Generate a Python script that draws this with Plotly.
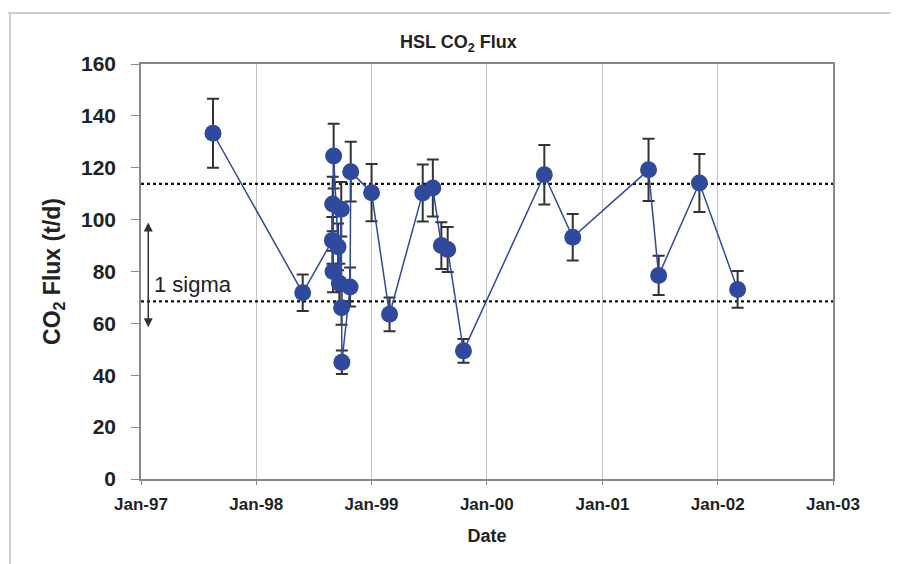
import plotly.graph_objects as go

# ---- data ----
dates = [
    "1997-08-17", "1998-05-28",
    "1998-08-30", "1998-08-31", "1998-09-01", "1998-09-03", "1998-09-17",
    "1998-09-21", "1998-09-27", "1998-09-28", "1998-09-29", "1998-10-25",
    "1998-10-27", "1999-01-01", "1999-02-27", "1999-06-12", "1999-07-14",
    "1999-08-10", "1999-08-30", "1999-10-19", "2000-07-01", "2000-09-29",
    "2001-05-27", "2001-06-28", "2001-11-04", "2002-03-05",
]
flux = [
    133.3, 71.8,
    92.0, 106.0, 80.0, 124.5, 89.5,
    75.5, 104.0, 66.0, 45.0, 74.0,
    118.5, 110.4, 63.5, 110.3, 112.2,
    90.0, 88.5, 49.4, 117.3, 93.2,
    119.2, 78.5, 114.1, 73.1,
]
flux_err = [
    13.3, 7.0,
    9.0, 10.5, 8.0, 12.5, 9.0,
    7.5, 10.5, 6.5, 4.5, 7.5,
    11.5, 11.0, 6.5, 11.0, 11.0,
    9.0, 8.7, 4.6, 11.5, 9.0,
    12.0, 7.6, 11.2, 7.1,
]
sigma_upper = 113.8
sigma_lower = 68.5
x_range = ["1997-01-01", "2003-01-01"]
tick_dates = ["1997-01-01", "1998-01-01", "1999-01-01", "2000-01-01",
              "2001-01-01", "2002-01-01", "2003-01-01"]
tick_labels = ["Jan-97", "Jan-98", "Jan-99", "Jan-00", "Jan-01", "Jan-02", "Jan-03"]
y_ticks = [0, 20, 40, 60, 80, 100, 120, 140, 160]

FONT = "Liberation Sans, Arial, sans-serif"
BLUE = "#2f4a9c"
TXT = "#222222"

# page body has an 8px margin; figure is laid out 8px up/left of the reference
OFF = 8
W, H = 891, 556
L, T = 141 - OFF, 64 - OFF
PR, PB = 833 - OFF, 479 - OFF
PW, PH = PR - L, PB - T


def px(x):
    return (x - OFF - L) / PW


def py(y):
    return (PB - (y - OFF)) / PH


fig = go.Figure()

for yv in (sigma_upper, sigma_lower):
    fig.add_trace(go.Scatter(
        x=x_range, y=[yv, yv], mode="lines",
        line=dict(color="#111111", width=2.2, dash="dot"),
        hoverinfo="skip", showlegend=False,
    ))

fig.add_trace(go.Scatter(
    x=dates, y=flux, mode="lines+markers",
    line=dict(color=BLUE, width=1.5),
    marker=dict(color=BLUE, size=17, line=dict(width=0)),
    error_y=dict(type="data", array=flux_err, visible=True,
                 color="#333333", thickness=2, width=6),
    showlegend=False,
))

fig.update_layout(
    width=W, height=H,
    margin=dict(l=L, r=W - PR, t=T, b=H - PB),
    paper_bgcolor="white", plot_bgcolor="white",
    font=dict(family=FONT, color=TXT),
    showlegend=False,
    xaxis=dict(
        type="date", range=x_range,
        tickvals=tick_dates, ticktext=tick_labels,
        tickfont=dict(size=17, family=FONT, weight="bold", color=TXT),
        showgrid=True, gridcolor="#c4c4c4", gridwidth=1,
        showline=True, linecolor="#888888", linewidth=1.5, mirror=True,
        ticks="outside", ticklen=4, tickcolor="#888888",
        ticklabelstandoff=5,
        zeroline=False,
        title=dict(text="Date", font=dict(size=18, family=FONT, weight="bold", color=TXT),
                   standoff=16),
    ),
    yaxis=dict(
        range=[0, 160], tickvals=y_ticks,
        tickfont=dict(size=21, family=FONT, weight="bold", color=TXT),
        showgrid=False, zeroline=False,
        showline=True, linecolor="#888888", linewidth=1.5, mirror=True,
        ticks="outside", ticklen=8, tickcolor="#888888",
        ticklabelstandoff=11,
        title=dict(text="CO<sub>2</sub> Flux (t/d)",
                   font=dict(size=23, family=FONT, weight="bold", color=TXT),
                   standoff=14),
    ),
)

fig.add_annotation(
    text="HSL CO<sub>2</sub> Flux", xref="paper", yref="paper",
    x=px(458), y=py(43), xanchor="center", yanchor="middle",
    showarrow=False, font=dict(size=18, family=FONT, weight="bold", color=TXT),
)

fig.add_annotation(
    x="1997-01-24", y=58.5, ax="1997-01-24", ay=99.5,
    xref="x", yref="y", axref="x", ayref="y",
    text="", showarrow=True, arrowhead=2, startarrowhead=2,
    arrowside="end+start", arrowsize=1.2, startarrowsize=1.2,
    arrowwidth=1.5, arrowcolor="#333333", standoff=0, startstandoff=0,
)
fig.add_annotation(
    x="1997-02-06", y=75, xref="x", yref="y", text="1 sigma",
    xanchor="left", yanchor="middle", showarrow=False,
    font=dict(size=22, family=FONT, color=TXT),
)

fig.add_shape(type="line", xref="paper", yref="paper",
              x0=px(5), x1=px(899), y0=py(13), y1=py(13),
              line=dict(color="#cfcfcf", width=2))
fig.add_shape(type="line", xref="paper", yref="paper",
              x0=px(10), x1=px(10), y0=py(13), y1=py(564),
              line=dict(color="#cfcfcf", width=2))

fig.write_html("out.html")
